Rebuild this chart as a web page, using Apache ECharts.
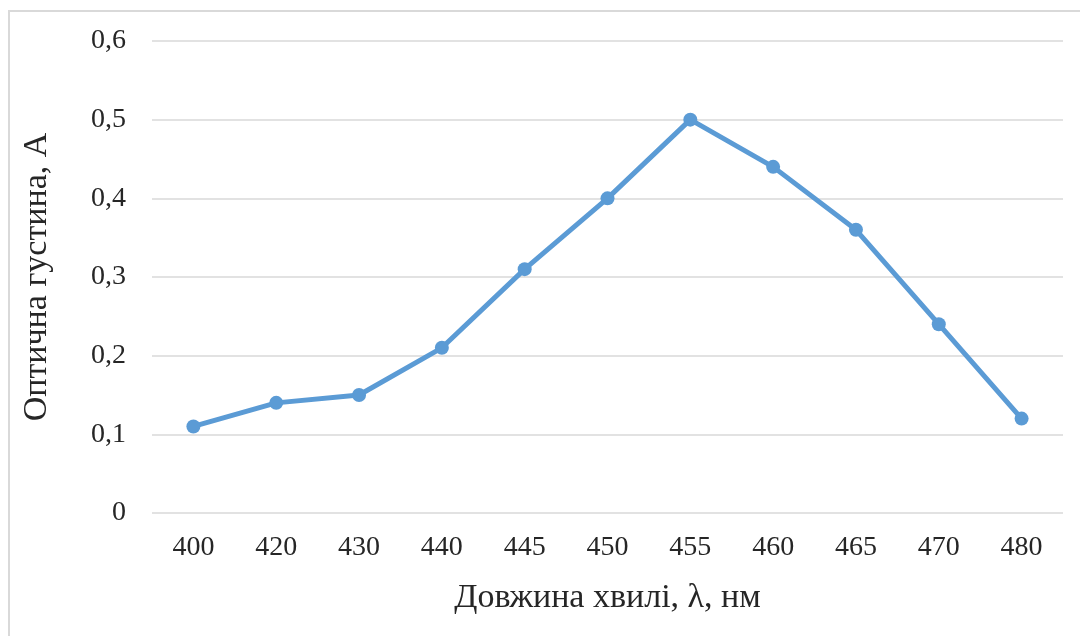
<!DOCTYPE html>
<html>
<head>
<meta charset="utf-8">
<script src="https://cdn.jsdelivr.net/npm/echarts@6/dist/echarts.min.js"></script>
<style>
  html, body { margin: 0; padding: 0; background: #fff; }
  #chart { width: 1080px; height: 636px; }
</style>
</head>
<body>
<div id="chart"></div>
<script>
// довжини хвиль (нм) та оптична густина
var wavelengths = ['400', '420', '430', '440', '445', '450', '455', '460', '465', '470', '480'];
var absorbance = [0.11, 0.14, 0.15, 0.21, 0.31, 0.40, 0.50, 0.44, 0.36, 0.24, 0.12];
var xTitle = 'Довжина хвилі, λ, нм';
var yTitle = 'Оптична густина, А';

var font = '"Liberation Serif", "DejaVu Serif", serif';
var myChart = echarts.init(document.getElementById('chart'));

var option = {
  animation: false,
  backgroundColor: '#fff',
  graphic: [{
    type: 'rect',
    shape: { x: 9, y: 11, width: 1090, height: 640 },
    style: { fill: 'none', stroke: '#d9d9d9', lineWidth: 2 },
    silent: true
  }],
  grid: { left: 152, right: 17, top: 41, bottom: 123 },
  xAxis: {
    type: 'category',
    data: wavelengths,
    boundaryGap: true,
    name: xTitle,
    nameLocation: 'middle',
    nameGap: 68,
    nameTextStyle: { fontFamily: font, fontSize: 34, color: '#262626' },
    axisLine: { show: false },
    axisTick: { show: false },
    axisLabel: { fontFamily: font, fontSize: 28, color: '#262626', margin: 21 }
  },
  yAxis: {
    type: 'value',
    min: 0,
    max: 0.6,
    interval: 0.1,
    name: yTitle,
    nameLocation: 'middle',
    nameGap: 98,
    nameTextStyle: { fontFamily: font, fontSize: 34, color: '#262626' },
    axisLine: { show: false },
    axisTick: { show: false },
    splitLine: { lineStyle: { color: '#d9d9d9', width: 1.5 } },
    axisLabel: {
      fontFamily: font, fontSize: 28, color: '#262626', margin: 26,
      formatter: function (v) { return String(Math.round(v * 10) / 10).replace('.', ','); }
    }
  },
  series: [{
    type: 'line',
    data: absorbance,
    symbol: 'circle',
    symbolSize: 14,
    lineStyle: { color: '#5b9bd5', width: 5 },
    itemStyle: { color: '#5b9bd5' }
  }]
};

myChart.setOption(option);
</script>
</body>
</html>
